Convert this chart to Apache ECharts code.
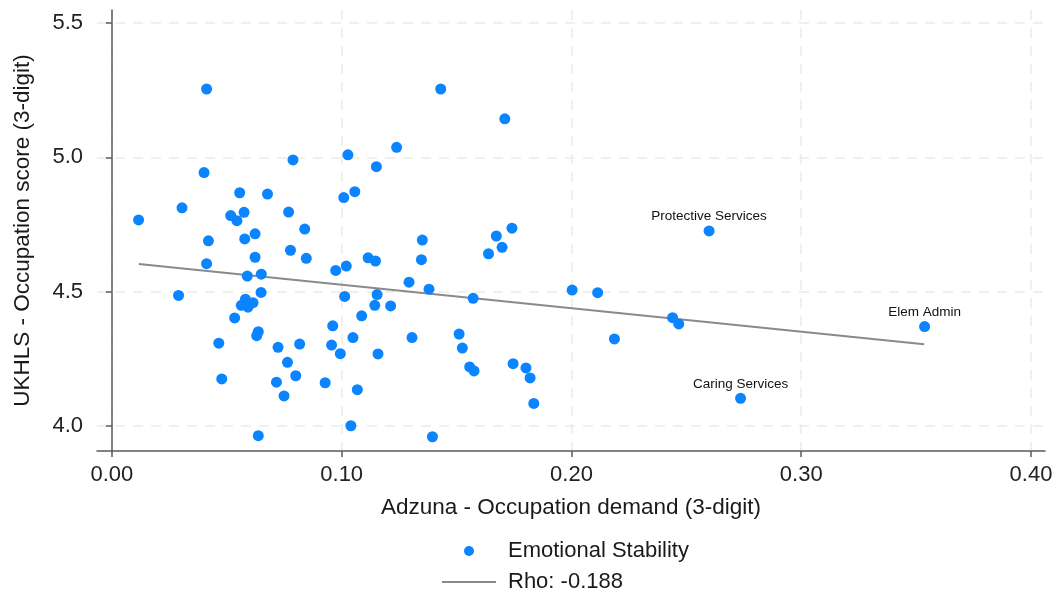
<!DOCTYPE html>
<html>
<head>
<meta charset="utf-8">
<script src="https://cdn.jsdelivr.net/npm/echarts@6/dist/echarts.min.js"></script>
<style>
  html, body { margin: 0; padding: 0; background: #fff; }
  #chart { width: 1059px; height: 598px; }
</style>
</head>
<body>
<div id="chart"></div>
<script>
// Occupation demand (Adzuna, 3-digit) vs. emotional stability score (UKHLS, 3-digit)
const demand = [
  0.0116, 0.0412, 0.1431, 0.1710, 0.1239, 0.1027, 0.0788, 0.1151, 0.0401, 0.0556,
  0.0677, 0.1057, 0.1009, 0.0305, 0.0517, 0.0575, 0.0544, 0.0769, 0.0839, 0.0623,
  0.0420, 0.0578, 0.1351, 0.1741, 0.1673, 0.1698, 0.1639, 0.0777, 0.0846, 0.0623,
  0.0412, 0.1115, 0.1147, 0.1347, 0.0974, 0.1020, 0.1293, 0.1380, 0.0650, 0.0589,
  0.0649, 0.0290, 0.1013, 0.1154, 0.1572, 0.2003, 0.2114, 0.0581, 0.0614, 0.0563,
  0.0592, 0.1144, 0.1213, 0.0534, 0.1087, 0.2440, 0.2467, 0.0637, 0.0630, 0.0961,
  0.1511, 0.1525, 0.0465, 0.0723, 0.0817, 0.0956, 0.1049, 0.1306, 0.2187, 0.0994,
  0.1158, 0.0764, 0.1746, 0.1802, 0.1557, 0.1576, 0.1820, 0.0800, 0.0478, 0.0716,
  0.0928, 0.1068, 0.0749, 0.1836, 0.1040, 0.0637, 0.1395
];
const score = [
  4.767, 5.254, 5.254, 5.143, 5.037, 5.009, 4.990, 4.965, 4.943, 4.868,
  4.863, 4.872, 4.850, 4.812, 4.783, 4.795, 4.764, 4.796, 4.733, 4.715,
  4.689, 4.696, 4.692, 4.736, 4.707, 4.665, 4.641, 4.654, 4.624, 4.628,
  4.604, 4.626, 4.614, 4.619, 4.579, 4.595, 4.535, 4.509, 4.565, 4.558,
  4.497, 4.486, 4.482, 4.489, 4.475, 4.506, 4.496, 4.472, 4.459, 4.449,
  4.442, 4.449, 4.447, 4.402, 4.410, 4.403, 4.380, 4.351, 4.336, 4.373,
  4.342, 4.290, 4.308, 4.293, 4.305, 4.301, 4.329, 4.329, 4.324, 4.269,
  4.268, 4.237, 4.232, 4.216, 4.220, 4.205, 4.179, 4.187, 4.175, 4.163,
  4.161, 4.135, 4.112, 4.084, 4.001, 3.964, 3.960
];

// Named occupations shown with a text label
const namedOcc = ['Protective Services', 'Caring Services', 'Elem Admin'];
const namedDemand = [0.2599, 0.2736, 0.3537];
const namedScore = [4.726, 4.103, 4.370];

// Fitted line endpoints
const fitDemand = [0.0117, 0.3535];
const fitScore = [4.603, 4.304];

const xTicks = [0, 0.1, 0.2, 0.3, 0.4];
const yTicks = [4.0, 4.5, 5.0, 5.5];

const seriesName = 'Emotional Stability';
const fitName = 'Rho: -0.188';

const FONT = '"Liberation Sans", Arial, Helvetica, sans-serif';
const BLUE = '#0a84ff';
const FIT_GREY = '#8a8a8a';

const points = demand.map((d, i) => [d, score[i]]);
namedOcc.forEach((n, i) => {
  points.push({
    value: [namedDemand[i], namedScore[i]],
    label: {
      show: true, formatter: n, position: 'top', distance: 2,
      fontFamily: FONT, fontSize: 13.5, color: '#111'
    }
  });
});

const axisCommon = {
  type: 'value',
  axisLine: { show: true, lineStyle: { color: '#5a5a5a', width: 1.5 } },
  axisTick: { show: true, length: 6, lineStyle: { color: '#5a5a5a', width: 1.5 } },
  splitLine: { show: true, lineStyle: { color: '#ebebeb', width: 1.5, type: [10, 8] } },
  nameLocation: 'middle',
  nameTextStyle: { fontFamily: FONT, fontSize: 22.5, color: '#1a1a1a' }
};

const chart = echarts.init(document.getElementById('chart'), null, { renderer: 'canvas' });
chart.setOption({
  animation: false,
  backgroundColor: '#ffffff',
  grid: { left: 97, right: 14, top: 10, bottom: 147, containLabel: false },
  xAxis: Object.assign({}, axisCommon, {
    min: -0.0065, max: 0.4061,
    name: 'Adzuna - Occupation demand (3-digit)',
    nameGap: 45,
    axisTick: Object.assign({}, axisCommon.axisTick, { customValues: xTicks }),
    axisLabel: {
      customValues: xTicks, margin: 13,
      fontFamily: FONT, fontSize: 22, color: '#222',
      formatter: v => v.toFixed(2)
    }
  }),
  yAxis: Object.assign({}, axisCommon, {
    min: 3.907, max: 5.548,
    name: 'UKHLS - Occupation score (3-digit)',
    nameGap: 63,
    axisTick: Object.assign({}, axisCommon.axisTick, { customValues: yTicks }),
    axisLabel: {
      customValues: yTicks, margin: 14,
      fontFamily: FONT, fontSize: 22, color: '#222',
      formatter: v => v.toFixed(1)
    }
  }),
  legend: {
    orient: 'vertical',
    left: 442, top: 539,
    padding: 0,
    itemWidth: 54, itemHeight: 10, itemGap: 7,
    textStyle: { fontFamily: FONT, fontSize: 22, color: '#1a1a1a', lineHeight: 24, padding: [0, 0, 0, 7] },
    data: [
      { name: seriesName, icon: 'circle' },
      { name: fitName, icon: 'path://M0,0L54,0L54,2L0,2Z', itemStyle: { color: FIT_GREY } }
    ]
  },
  series: [
    {
      name: seriesName,
      type: 'scatter',
      symbol: 'circle',
      symbolSize: 11,
      itemStyle: { color: BLUE, opacity: 1 },
      data: points,
      z: 3
    },
    {
      name: fitName,
      type: 'line',
      symbol: 'none',
      lineStyle: { color: FIT_GREY, width: 2 },
      itemStyle: { color: FIT_GREY },
      data: fitDemand.map((d, i) => [d, fitScore[i]]),
      z: 2
    }
  ]
});
</script>
</body>
</html>
